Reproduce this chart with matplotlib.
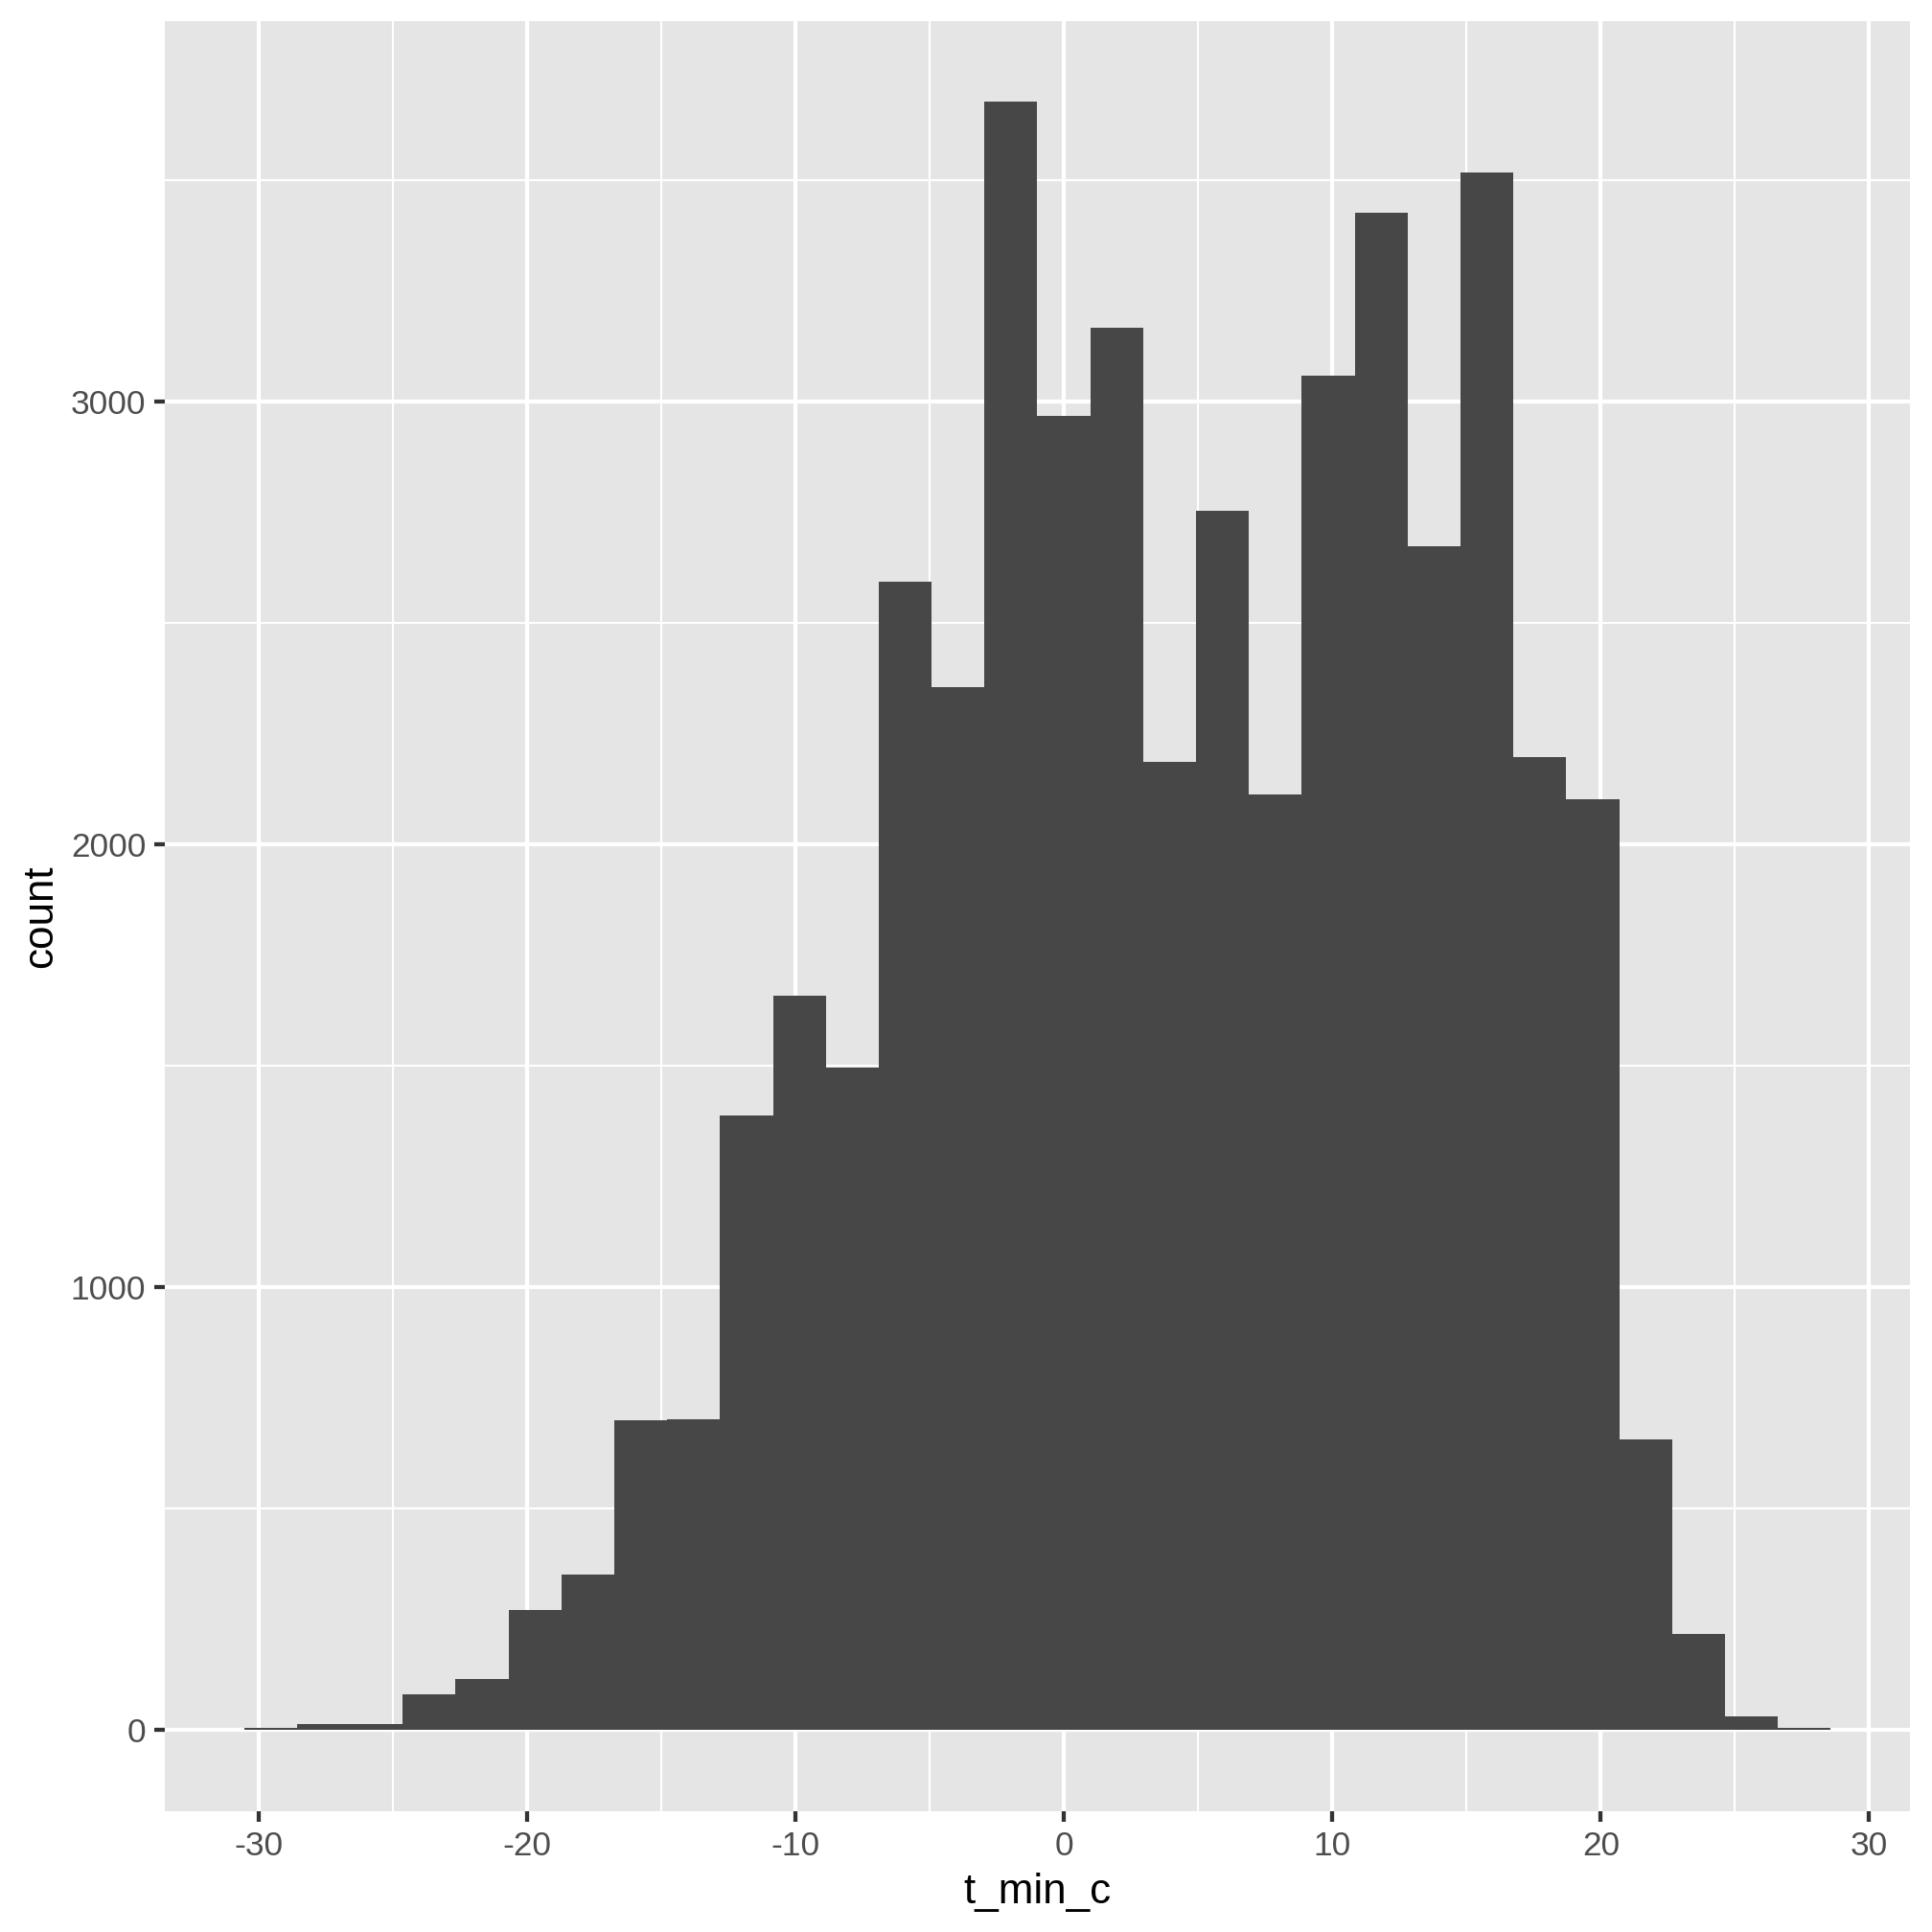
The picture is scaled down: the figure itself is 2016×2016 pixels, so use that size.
import numpy as np
import matplotlib
matplotlib.use("Agg")
import matplotlib.pyplot as plt

# histogram of t_min_c, 30 bins (counts)
bin_width = 1.97
bin_index = np.arange(-15, 15)
counts = [4, 13, 14, 81, 115, 271, 351, 700, 702, 1388,
          1658, 1496, 2592, 2354, 3676, 2968, 3167, 2187, 2754, 2113,
          3059, 3427, 2672, 3516, 2196, 2102, 656, 217, 31, 4]
x_ticks = [-30, -20, -10, 0, 10, 20, 30]
x_minor = [-25, -15, -5, 5, 15, 25]
y_ticks = [0, 1000, 2000, 3000]
y_minor = [500, 1500, 2500, 3500]

plt.rcParams['font.family'] = ['Liberation Sans', 'DejaVu Sans']
plt.rcParams['axes.unicode_minus'] = False

fig = plt.figure(figsize=(7, 7), dpi=288)
ax = fig.add_axes([0.0853, 0.0625, 0.9033, 0.9268])
ax.set_facecolor('#E5E5E5')

centers = bin_index * bin_width
ax.bar(centers, counts, width=bin_width, color='#474747', linewidth=0, zorder=3)

# x/y range like ggplot's 5% expansion
lo = centers[0] - bin_width / 2
hi = centers[-1] + bin_width / 2
span = hi - lo
ax.set_xlim(lo - 0.05 * span, hi + 0.05 * span)
ymax = max(counts)
ax.set_ylim(-0.05 * ymax, 1.05 * ymax)

ax.set_xticks(x_ticks)
ax.set_xticks(x_minor, minor=True)
ax.set_yticks(y_ticks)
ax.set_yticks(y_minor, minor=True)
ax.grid(which='major', color='white', linewidth=1.07, zorder=1)
ax.grid(which='minor', color='white', linewidth=0.53, zorder=1)
ax.set_axisbelow(True)

for s in ax.spines.values():
    s.set_visible(False)

ax.tick_params(which='major', length=2.75, width=1.07, color='#333333',
               labelsize=8.8, labelcolor='#4D4D4D', pad=2.2)
ax.tick_params(which='minor', length=0)

ax.set_xlabel('t_min_c', fontsize=11, color='black', labelpad=2.75)
ax.set_ylabel('count', fontsize=11, color='black', labelpad=2.75)

fig.savefig('out.png', dpi=288, facecolor='white')
